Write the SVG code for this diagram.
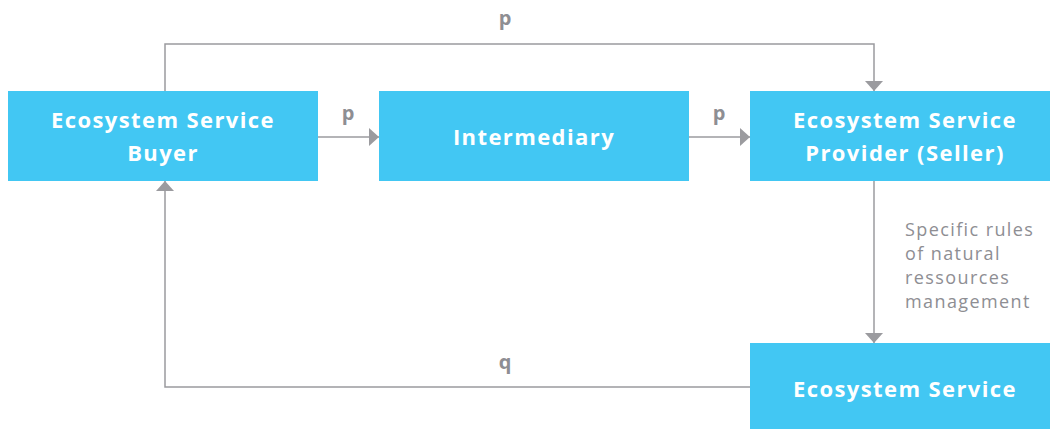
<svg xmlns="http://www.w3.org/2000/svg" width="1050" height="429" viewBox="0 0 1050 429">
<defs>
<style>
.box{fill:#42C7F3;}
.nt{fill:#ffffff;font-family:"Open Sans","Liberation Sans",sans-serif;font-weight:700;font-size:22px;text-anchor:middle;letter-spacing:1.4px;}
.ln{fill:none;stroke:#9b9b9f;stroke-width:1.5;}
.lbl{fill:#8e8e93;font-family:"Open Sans","Liberation Sans",sans-serif;font-weight:700;font-size:20px;text-anchor:middle;}
.note{fill:#8e8e93;font-family:"Open Sans","Liberation Sans",sans-serif;font-size:18px;letter-spacing:1.4px;}
</style>
<marker id="arrw" viewBox="0 0 10 18" refX="10" refY="9" markerWidth="10" markerHeight="18" markerUnits="userSpaceOnUse" orient="auto">
<path d="M0,0 L10,9 L0,18 Z" fill="#9b9b9f"/>
</marker>
</defs>
<rect width="1050" height="429" fill="#ffffff"/>
<g id="connectors">
<path class="ln" d="M165,91 V44 H874 V91" marker-end="url(#arrw)"/>
<path class="ln" d="M318,137 H379" marker-end="url(#arrw)"/>
<path class="ln" d="M689,137 H750" marker-end="url(#arrw)"/>
<path class="ln" d="M874,181 V343" marker-end="url(#arrw)"/>
<path class="ln" d="M750,387 H165 V181" marker-end="url(#arrw)"/>
<text class="lbl" x="505" y="25">p</text>
<text class="lbl" x="348" y="120">p</text>
<text class="lbl" x="719" y="120">p</text>
<text class="lbl" x="505" y="369">q</text>
<text class="note" x="905" y="236">Specific rules</text>
<text class="note" x="905" y="260">of natural</text>
<text class="note" x="905" y="284">ressources</text>
<text class="note" x="905" y="308">management</text>
</g>
<g id="buyer">
<rect class="box" x="8" y="91" width="310" height="90"/>
<text class="nt" x="163" y="128">Ecosystem Service</text>
<text class="nt" x="163" y="161">Buyer</text>
</g>
<g id="intermediary">
<rect class="box" x="379" y="91" width="310" height="90"/>
<text class="nt" x="534" y="145">Intermediary</text>
</g>
<g id="provider">
<rect class="box" x="750" y="91" width="300" height="90"/>
<text class="nt" x="905" y="128">Ecosystem Service</text>
<text class="nt" x="905" y="161">Provider (Seller)</text>
</g>
<g id="service">
<rect class="box" x="750" y="343" width="300" height="86"/>
<text class="nt" x="905" y="397">Ecosystem Service</text>
</g>
</svg>
